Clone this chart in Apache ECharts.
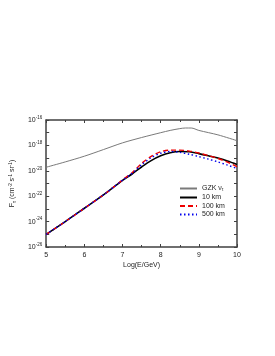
<!DOCTYPE html>
<html><head><meta charset="utf-8">
<script src="https://cdn.jsdelivr.net/npm/echarts@6/dist/echarts.min.js"></script>
<style>html,body{margin:0;padding:0;background:#fff}#c{width:275px;height:356px}</style>
</head><body><div id="c"></div>
<script>
// x = log10(E/GeV); y values are log10 of flux (cm^-2 s^-1 sr^-1)
const gzkX  = [5, 5.5, 6, 6.5, 7, 7.5, 8, 8.25, 8.5, 8.65, 8.8, 9, 9.5, 10];
const gzkY  = [-19.72, -19.3, -18.85, -18.33, -17.8, -17.38, -17.0, -16.82, -16.68, -16.63, -16.63, -16.82, -17.17, -17.63];
const lowX  = [5, 5.5, 6, 6.5, 7, 7.25, 7.5, 7.75, 8, 8.25, 8.5, 8.75, 9, 9.25, 9.5, 9.75, 10];
const km10Y = [-25.0, -24.0, -22.95, -21.9, -20.75, -20.25, -19.7, -19.2, -18.82, -18.58, -18.48, -18.5, -18.65, -18.82, -19.0, -19.22, -19.5];
const km100Y= [-25.0, -24.0, -22.95, -21.9, -20.72, -20.15, -19.42, -18.87, -18.5, -18.37, -18.37, -18.45, -18.6, -18.8, -19.03, -19.32, -19.67];
const km500Y= [-25.0, -24.0, -22.95, -21.9, -20.74, -20.2, -19.52, -18.97, -18.62, -18.48, -18.55, -18.7, -18.88, -19.08, -19.3, -19.55, -19.82];
const yMin = -26, yMax = -16;
const seriesNames = ['GZK ν_τ', '10 km', '100 km', '500 km'];

const pair = (xs, ys) => xs.map((x, i) => [x, ys[i]]);
const FONT = 'Liberation Sans, Arial, sans-serif';
const axisCol = '#404040';

const yLabelFmt = v => (Math.round(v) % 2 === 0) ? '{b|10}{s|' + Math.round(v) + '}' : '';
const yRich = {
  b: {fontSize: 7, fontFamily: FONT, color: '#222'},
  s: {fontSize: 4.5, fontFamily: FONT, color: '#222', verticalAlign: 'top', padding: [0, 0, 5, 0]}
};

const chart = echarts.init(document.getElementById('c'), null, {renderer: 'canvas'});
chart.setOption({
  animation: false,
  backgroundColor: '#fff',
  grid: {left: 41, top: 120, width: 196, height: 127, containLabel: false},
  legend: {
    orient: 'vertical', left: 174, top: 180, itemWidth: 17, itemHeight: 7, itemGap: 1.5,
    itemStyle: {opacity: 0},
    textStyle: {fontSize: 7, fontFamily: FONT, color: '#222',
      rich: {sub: {fontSize: 4.5, fontFamily: FONT, color: '#222', verticalAlign: 'bottom', padding: [3, 0, 0, 0]}}},
    formatter: n => n === seriesNames[0] ? 'GZK ν{sub|τ}' : n,
    data: seriesNames
  },
  xAxis: [{
    type: 'value', min: 5, max: 10, interval: 1, position: 'bottom',
    name: 'Log(E/GeV)', nameLocation: 'middle', nameGap: 15,
    nameTextStyle: {fontSize: 7, fontFamily: FONT, color: '#222'},
    axisLine: {show: true, lineStyle: {color: axisCol, width: 1.5}},
    axisTick: {show: true, inside: true, length: 3, lineStyle: {color: axisCol}},
    minorTick: {show: true, splitNumber: 2, length: 2, lineStyle: {color: axisCol}},
    axisLabel: {fontSize: 7, fontFamily: FONT, color: '#222', margin: 5},
    splitLine: {show: false}
  }, {
    type: 'value', min: 5, max: 10, interval: 1, position: 'top',
    axisLine: {show: true, lineStyle: {color: axisCol, width: 1.5}},
    axisTick: {show: true, inside: true, length: 3, lineStyle: {color: axisCol}},
    minorTick: {show: true, splitNumber: 2, length: 2, lineStyle: {color: axisCol}},
    axisLabel: {show: false}, splitLine: {show: false}
  }],
  yAxis: [{
    type: 'value', min: yMin, max: yMax, interval: 1, position: 'left',
    name: '{f|F}{t|τ}{f| (cm}{s|-2}{f| s}{s|-1}{f| sr}{s|-1}{f|)}',
    nameLocation: 'middle', nameGap: 29, nameRotate: 90,
    nameTextStyle: {rich: {
      f: {fontSize: 7, fontFamily: FONT, color: '#222'},
      t: {fontSize: 5, fontFamily: FONT, color: '#222', verticalAlign: 'bottom', padding: [2, 0, 0, 0]},
      s: {fontSize: 4.5, fontFamily: FONT, color: '#222', verticalAlign: 'top', padding: [0, 0, 4, 0]}
    }},
    axisLine: {show: true, lineStyle: {color: axisCol, width: 1.5}},
    axisTick: {show: true, inside: true, length: 3, lineStyle: {color: axisCol}},
    axisLabel: {formatter: yLabelFmt, rich: yRich, margin: 4},
    splitLine: {show: false}
  }, {
    type: 'value', min: yMin, max: yMax, interval: 1, position: 'right',
    axisLine: {show: true, lineStyle: {color: axisCol, width: 1.5}},
    axisTick: {show: true, inside: true, length: 3, lineStyle: {color: axisCol}},
    axisLabel: {show: false}, splitLine: {show: false}
  }],
  series: [
    {name: seriesNames[0], type: 'line', data: pair(gzkX, gzkY), smooth: 0.3, symbol: 'none',
     lineStyle: {color: '#7a7a7a', width: 1}, itemStyle: {color: '#7a7a7a'}},
    {name: seriesNames[1], type: 'line', data: pair(lowX, km10Y), smooth: 0.3, symbol: 'none',
     lineStyle: {color: '#000', width: 1.6}, itemStyle: {color: '#000'}},
    {name: seriesNames[2], type: 'line', data: pair(lowX, km100Y), smooth: 0.3, symbol: 'none',
     lineStyle: {color: '#ee0000', width: 1.4, type: [5, 3]}, itemStyle: {color: '#ee0000'}},
    {name: seriesNames[3], type: 'line', data: pair(lowX, km500Y), smooth: 0.3, symbol: 'none',
     lineStyle: {color: '#0000ee', width: 1.4, type: [1.5, 2.5]}, itemStyle: {color: '#0000ee'}}
  ]
});
</script></body></html>
